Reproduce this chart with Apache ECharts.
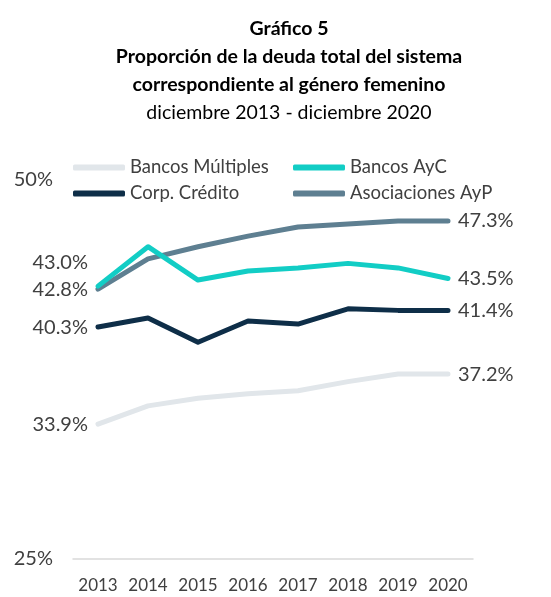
<!DOCTYPE html>
<html>
<head>
<meta charset="utf-8">
<script src="https://cdn.jsdelivr.net/npm/echarts@6/dist/echarts.min.js"></script>
<style>
  html, body { margin: 0; padding: 0; background: #fff; }
  #chart { width: 551px; height: 597px; }
</style>
</head>
<body>
<div id="chart"></div>
<script>
// datos
var years = ['2013', '2014', '2015', '2016', '2017', '2018', '2019', '2020'];
var bancosMultiples = [33.9, 35.1, 35.6, 35.9, 36.1, 36.7, 37.2, 37.2];
var bancosAyC = [43.0, 45.6, 43.4, 44.0, 44.2, 44.5, 44.2, 43.5];
var corpCredito = [40.3, 40.9, 39.3, 40.7, 40.5, 41.5, 41.4, 41.4];
var asociacionesAyP = [42.8, 44.8, 45.6, 46.3, 46.9, 47.1, 47.3, 47.3];
var yTicks = [25, 50];

var txt = '#404040';
var fontName = 'Lato';

// solo se etiqueta el primer y el ultimo punto
function withEndLabels(values, firstOffset) {
    return values.map(function (v, i) {
        if (i === 0) {
            return { value: v, label: { show: true, position: 'left', distance: 10, offset: firstOffset || [0, 0] } };
        }
        if (i === values.length - 1) {
            return { value: v, label: { show: true, position: 'right', distance: 10 } };
        }
        return v;
    });
}

function serie(name, color, values, firstOffset) {
    return {
        name: name,
        type: 'line',
        data: withEndLabels(values, firstOffset),
        symbol: 'circle',
        symbolSize: 0,
        showSymbol: true,
        lineStyle: { color: color, width: 5, cap: 'round', join: 'round' },
        itemStyle: { color: color },
        label: {
            show: false,
            color: txt,
            fontFamily: fontName,
            fontSize: 20,
            formatter: function (p) { return p.value.toFixed(1) + '%'; }
        },
        emphasis: { disabled: true }
    };
}

var chart = echarts.init(document.getElementById('chart'), null, { renderer: 'canvas' });

chart.setOption({
    animation: false,
    backgroundColor: '#fff',
    title: {
        left: 284,
        textAlign: 'center',
        top: 10,
        text: '{b|Gráfico 5}\n{b|Proporción de la deuda total del sistema}\n{b|correspondiente al género femenino}\n{n|diciembre 2013 - diciembre 2020}',
        textStyle: {
            rich: {
                b: { fontFamily: fontName, fontWeight: 'bold', fontSize: 19.5, color: '#000', lineHeight: 28, align: 'center' },
                n: { fontFamily: fontName, fontWeight: 'normal', fontSize: 19.5, color: '#000', lineHeight: 28, align: 'center' }
            }
        }
    },
    legend: [{
        orient: 'vertical',
        left: 68,
        top: 153,
        itemWidth: 52,
        itemHeight: 6,
        itemGap: 7,
        icon: 'roundRect',
        textStyle: { color: txt, fontFamily: fontName, fontSize: 18.5 },
        data: ['Bancos Múltiples', 'Corp. Crédito']
    }, {
        orient: 'vertical',
        left: 288,
        top: 153,
        itemWidth: 52,
        itemHeight: 6,
        itemGap: 7,
        icon: 'roundRect',
        textStyle: { color: txt, fontFamily: fontName, fontSize: 18.5 },
        data: ['Bancos AyC', 'Asociaciones AyP']
    }],
    grid: { left: 73, right: 78, top: 180, bottom: 38 },
    xAxis: {
        type: 'category',
        data: years,
        boundaryGap: true,
        axisLine: { lineStyle: { color: '#D9D9D9', width: 1.5 } },
        axisTick: { show: false },
        axisLabel: { color: txt, fontFamily: fontName, fontSize: 17, margin: 18, interval: 0 }
    },
    yAxis: {
        type: 'value',
        min: yTicks[0],
        max: yTicks[1],
        interval: yTicks[1] - yTicks[0],
        axisLine: { show: false },
        axisTick: { show: false },
        splitLine: { show: false },
        axisLabel: { color: txt, fontFamily: fontName, fontSize: 20, margin: 20, formatter: '{value}%' }
    },
    series: [
        serie('Bancos Múltiples', '#E1E6EA', bancosMultiples),
        serie('Corp. Crédito', '#0E2E48', corpCredito),
        serie('Asociaciones AyP', '#5E7F91', asociacionesAyP),
        serie('Bancos AyC', '#12CDC5', bancosAyC, [0, -24])
    ]
});
</script>
</body>
</html>
